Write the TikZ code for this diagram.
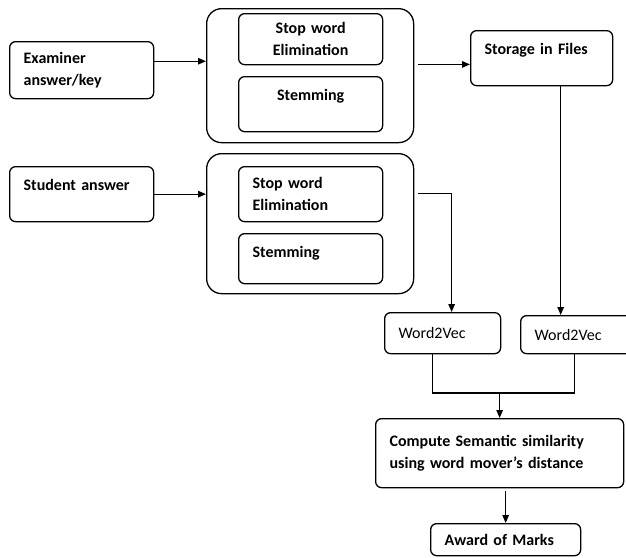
\documentclass[tikz,border=0pt]{standalone}
\usepackage{fontspec}
\setmainfont{Carlito}
\usetikzlibrary{arrows.meta}

\begin{document}
\begin{tikzpicture}[x=1pt,y=-1pt,>={Triangle[length=8pt,width=6.5pt]},line width=1.3pt,
    box/.style={draw,rounded corners=6pt,anchor=north west,inner xsep=14pt,inner ysep=0pt,align=left,font=\fontsize{16}{22}\selectfont\bfseries},
    outer/.style={draw,rounded corners=15pt,anchor=north west,inner sep=0pt},
    topline/.style={text height=24pt,text depth=#1},
    plain/.style={font=\fontsize{16}{22}\selectfont}]
    \useasboundingbox (0,0) rectangle (626,557);
    \clip (0,0) rectangle (626,557);
    \node[box,text width=116pt,minimum height=57pt] (exam) at (9,41) {Examiner\\answer/key};
    \node[outer,minimum width=207pt,minimum height=134pt] (pre1) at (206,8) {};
    \node[box,text width=116pt,minimum height=51pt,align=center] (stop1) at (238,13) {Stop word\\Elimination};
    \node[box,text width=116pt,topline=31pt,align=center] (stem1) at (238,76) {Stemming};
    \node[box,text width=114pt,topline=31pt] (storage) at (470,30) {Storage in Files};
    \node[box,text width=116pt,topline=31pt] (stud) at (9,166) {Student answer};
    \node[outer,minimum width=207pt,minimum height=140pt] (pre2) at (206,153) {};
    \node[box,text width=116pt,minimum height=55pt] (stop2) at (238,166) {Stop word\\Elimination};
    \node[box,text width=116pt,topline=26pt] (stem2) at (238,233) {Stemming};
    \node[box,plain,text width=88pt,minimum height=41pt] (w2va) at (384,312) {Word2Vec};
    \node[box,plain,text width=92pt,minimum height=38pt] (w2vb) at (520,315) {Word2Vec};
    \node[box,text width=220pt,minimum height=69pt] (compute) at (375,418) {Compute Semantic similarity\\using word mover’s distance};
    \node[box,text width=122pt,minimum height=32pt] (award) at (430,523) {Award of Marks};
    \coordinate (join) at ([yshift=25pt]compute.north);

    \draw[->] (exam.7) -- (exam.7 -| pre1.west);
    \draw[->,shorten <=4pt] (storage.185 -| pre1.east) -- (storage.185);
    \draw[->] (stud.east) -- (stud.east -| pre2.west);
    \draw[->,shorten <=4pt] ([yshift=30pt]pre2.east) -| (w2va.67);
    \draw[->] ([xshift=19pt]storage.south) -- ([xshift=19pt]storage.south |- w2vb.north);
    \draw ([xshift=-10.5pt]w2va.south) |- (join) -| ([xshift=-6pt]w2vb.south);
    \draw[->] (join) -- (compute.north);
    \draw[->,shorten <=3pt] (compute.south -| award.north) -- (award.north);
\end{tikzpicture}
\end{document}
